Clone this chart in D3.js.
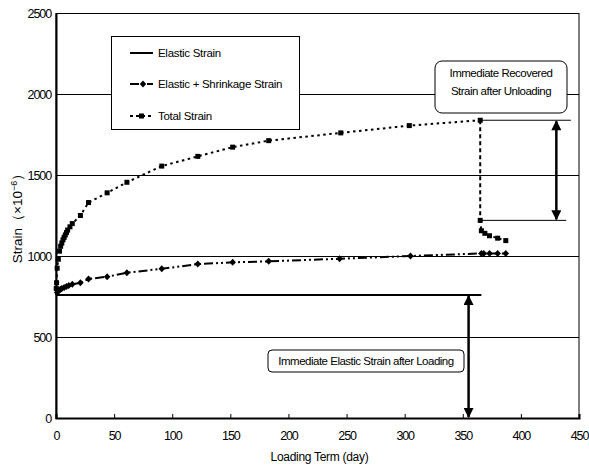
<!DOCTYPE html>
<html>
<head>
<meta charset="utf-8">
<script src="https://cdn.jsdelivr.net/npm/d3@7"></script>
<style>
  body { margin: 0; background: #fff; }
  svg text { font-family: "Liberation Sans", Arial, sans-serif; fill: #000; }
  .tick-label { font-family: "Liberation Sans", Arial, sans-serif; font-size: 12.5px; letter-spacing: -1.1px; }
  .grid line { stroke: #000; stroke-width: 1; }
</style>
</head>
<body>
<svg id="chart" width="589" height="466"></svg>
<script>
/* DATA */
var elasticStrain = 760;
var elasticEnd = 366;

// elastic + shrinkage [day, strain]
var shrinkDays   = [0, 1, 2, 3, 4, 5, 7, 9, 11, 14, 21, 28, 44, 61, 91, 122, 152, 183, 244, 305, 366, 368, 373, 380, 387];
var shrinkStrain = [760, 775, 785, 790, 795, 800, 805, 812, 818, 825, 835, 858, 872, 897, 921, 950, 961, 967, 983, 1000, 1016, 1016, 1016, 1016, 1016];

// total strain [day, strain], unloading at day 365
var totalDays   = [0, 0.2, 0.5, 1, 2, 3, 4, 5, 6, 7, 8, 9, 10, 12, 14, 21, 28, 44, 61, 91, 122, 152, 183, 245, 304, 365, 365, 366, 369, 373, 380, 387];
var totalStrain = [760, 800, 835, 925, 980, 1030, 1060, 1080, 1100, 1115, 1130, 1145, 1160, 1180, 1200, 1250, 1330, 1390, 1455, 1555, 1615, 1672, 1712, 1760, 1805, 1838, 1220, 1156, 1140, 1125, 1110, 1095];
var unloadIndex = 25; // last point before unloading

var xTicks = [0, 50, 100, 150, 200, 250, 300, 350, 400, 450];
var yTicks = [0, 500, 1000, 1500, 2000, 2500];

var legendItems = ["Elastic Strain", "Elastic + Shrinkage Strain", "Total Strain"];

var svg = d3.select("#chart");
var margin = {left: 56, right: 10, top: 13, bottom: 48};
var W = 589, H = 466;

var x = d3.scaleLinear().domain([0, 450]).range([margin.left, W - margin.right]);
var y = d3.scaleLinear().domain([0, 2500]).range([H - margin.bottom, margin.top]);

var defs = svg.append("defs");
defs.append("marker")
    .attr("id", "arr")
    .attr("viewBox", "0 0 10 10")
    .attr("refX", 9).attr("refY", 5)
    .attr("markerWidth", 4.5).attr("markerHeight", 4)
    .attr("markerUnits", "strokeWidth")
    .attr("orient", "auto-start-reverse")
  .append("path")
    .attr("d", "M0,0 L10,5 L0,10 Z")
    .attr("fill", "#000");

// horizontal gridlines
svg.append("g").attr("class", "grid")
  .selectAll("line")
  .data(yTicks.slice(1, -1))
  .enter().append("line")
    .attr("x1", x(0)).attr("x2", x(450))
    .attr("y1", function(d){ return y(d) + 0.5; })
    .attr("y2", function(d){ return y(d) + 0.5; });

// frame
svg.append("rect")
  .attr("x", x(0)).attr("y", y(2500) + 0.5)
  .attr("width", x(450) - x(0)).attr("height", y(0) - y(2500))
  .attr("fill", "none").attr("stroke", "#000").attr("stroke-width", 1);

// axes
var xAxis = d3.axisBottom(x).tickValues(xTicks).tickFormat(d3.format("d")).tickSize(-4).tickPadding(13);
var gx = svg.append("g").attr("transform", "translate(0," + y(0) + ")").call(xAxis);
gx.select(".domain").attr("stroke-width", 2);
gx.selectAll(".tick text").attr("class", "tick-label").attr("font-family", null).attr("font-size", null);

var yAxis = d3.axisLeft(y).tickValues(yTicks).tickFormat(d3.format("d")).tickSize(0).tickPadding(5);
var gy = svg.append("g").attr("transform", "translate(" + x(0) + ",0)").call(yAxis);
gy.select(".domain").attr("stroke-width", 2);
gy.selectAll(".tick text").attr("class", "tick-label").attr("font-family", null).attr("font-size", null);

// axis titles
svg.append("text")
  .attr("x", (x(0) + x(450)) / 2 + 2).attr("y", 461)
  .attr("text-anchor", "middle").attr("font-size", 12).attr("letter-spacing", -0.3)
  .text("Loading Term (day)");

var yl = svg.append("text")
  .attr("transform", "translate(22," + 215 + ") rotate(-90)")
  .attr("text-anchor", "middle").attr("font-size", 13.5);
yl.append("tspan").text("Strain\uFF08\u00D710");
yl.append("tspan").attr("dy", -5).attr("font-size", 9).text("\u22126");
yl.append("tspan").attr("dy", 5).text("\uFF09");

// series
var line = d3.line().x(function(d){ return x(d[0]); }).y(function(d){ return y(d[1]); });
var shrinkData = shrinkDays.map(function(d, i){ return [d, shrinkStrain[i]]; });
var totalData = totalDays.map(function(d, i){ return [d, totalStrain[i]]; });

// elastic strain
svg.append("line")
  .attr("x1", x(0)).attr("x2", x(elasticEnd))
  .attr("y1", y(elasticStrain)).attr("y2", y(elasticStrain))
  .attr("stroke", "#000").attr("stroke-width", 2);

svg.append("path").datum(shrinkData)
  .attr("d", line).attr("fill", "none").attr("stroke", "#000")
  .attr("stroke-width", 2).attr("stroke-dasharray", "9,3,2,3,2,3");

// total strain: loading, unloading drop, recovery
var totalParts = [
  {data: totalData.slice(0, unloadIndex + 1), dash: "2.5,3.5"},
  {data: totalData.slice(unloadIndex, unloadIndex + 2), dash: "4,3"},
  {data: totalData.slice(unloadIndex + 1), dash: "2.5,3.5"}
];
svg.append("g").selectAll("path")
  .data(totalParts)
  .enter().append("path")
    .attr("d", function(p){ return line(p.data); })
    .attr("fill", "none").attr("stroke", "#000")
    .attr("stroke-width", 2).attr("stroke-dasharray", function(p){ return p.dash; });

var diamond = d3.symbol().type(d3.symbolDiamond).size(22);
svg.append("g").selectAll("path")
  .data(shrinkData.slice(1))
  .enter().append("path")
    .attr("d", diamond)
    .attr("transform", function(d){ return "translate(" + x(d[0]) + "," + y(d[1]) + ") scale(1.3,0.8)"; })
    .attr("fill", "#000");

svg.append("g").selectAll("rect")
  .data(totalData.slice(1))
  .enter().append("rect")
    .attr("x", function(d){ return x(d[0]) - 2.5; })
    .attr("y", function(d){ return y(d[1]) - 2.5; })
    .attr("width", 5).attr("height", 5)
    .attr("fill", "#000");

// recovered strain annotation
var unloadTop = totalStrain[unloadIndex], unloadBot = totalStrain[unloadIndex + 1];
svg.append("line").attr("x1", x(365)).attr("x2", x(443))
  .attr("y1", y(unloadTop)).attr("y2", y(unloadTop)).attr("stroke", "#000");
svg.append("line").attr("x1", x(365)).attr("x2", x(439))
  .attr("y1", y(unloadBot)).attr("y2", y(unloadBot)).attr("stroke", "#000");
svg.append("line").attr("x1", x(430.5)).attr("x2", x(430.5))
  .attr("y1", y(unloadTop) + 1).attr("y2", y(unloadBot) - 1)
  .attr("stroke", "#000").attr("stroke-width", 2.5)
  .attr("marker-start", "url(#arr)").attr("marker-end", "url(#arr)");

svg.append("rect").attr("x", 435).attr("y", 61).attr("width", 132).attr("height", 52)
  .attr("rx", 7).attr("fill", "#fff").attr("stroke", "#000");
svg.append("text").attr("x", 501).attr("y", 77).attr("text-anchor", "middle")
  .attr("font-size", 11.5).attr("letter-spacing", -0.5).text("Immediate Recovered");
svg.append("text").attr("x", 501).attr("y", 95).attr("text-anchor", "middle")
  .attr("font-size", 11.5).attr("letter-spacing", -0.5).text("Strain after Unloading");

// elastic strain annotation
svg.append("line").attr("x1", x(355)).attr("x2", x(355))
  .attr("y1", y(elasticStrain) + 1).attr("y2", y(0) - 1)
  .attr("stroke", "#000").attr("stroke-width", 2.5)
  .attr("marker-start", "url(#arr)").attr("marker-end", "url(#arr)");
svg.append("rect").attr("x", 268).attr("y", 350).attr("width", 196).attr("height", 22)
  .attr("rx", 4).attr("fill", "#fff").attr("stroke", "#000");
svg.append("text").attr("x", 366).attr("y", 365).attr("text-anchor", "middle")
  .attr("font-size", 11.5).attr("letter-spacing", -0.5).text("Immediate Elastic Strain after Loading");

// legend
var lg = svg.append("g");
lg.append("rect").attr("x", 111.5).attr("y", 36.5).attr("width", 188).attr("height", 93)
  .attr("fill", "#fff").attr("stroke", "#000");
var rowsY = [53, 84, 116];
var styles = [
  {dash: null, marker: null},
  {dash: "9,2,3,3", marker: "diamond"},
  {dash: "3,3", marker: "square"}
];
legendItems.forEach(function(t, i){
  var yy = rowsY[i];
  lg.append("line").attr("x1", 130).attr("x2", 153).attr("y1", yy).attr("y2", yy)
    .attr("stroke", "#000").attr("stroke-width", 2)
    .attr("stroke-dasharray", styles[i].dash);
  if (styles[i].marker == "diamond") {
    lg.append("path").attr("d", diamond)
      .attr("transform", "translate(143," + yy + ") scale(1.3,0.8)").attr("fill", "#000");
  } else if (styles[i].marker == "square") {
    lg.append("rect").attr("x", 139).attr("y", yy - 2.5).attr("width", 5).attr("height", 5).attr("fill", "#000");
  }
  lg.append("text").attr("x", 158).attr("y", yy + 4).attr("font-size", 11.5)
    .attr("letter-spacing", -0.3).text(t);
});
</script>
</body>
</html>
